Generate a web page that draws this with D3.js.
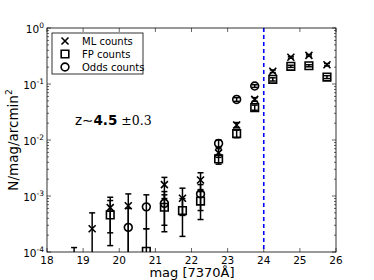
<!DOCTYPE html>
<html>
<head>
<meta charset="utf-8">
<script src="https://cdn.jsdelivr.net/npm/d3@7"></script>
<style>
  body { margin: 0; background: #fff; }
  text { font-family: "DejaVu Sans", sans-serif; }
</style>
</head>
<body>
<div id="wrapper"></div>
<script>
// bin centres (mag) and counts per series, with lower/upper error bar ends
const mags = [18.75, 19.25, 19.75, 20.25, 20.75, 21.25, 21.75, 22.25, 22.75, 23.25, 23.75, 24.25, 24.75, 25.25, 25.75];

const mlCounts = [6e-5, 2.6e-4, 6.2e-4, 6.7e-4, null, 1.6e-3, 9.1e-4, 1.93e-3, 5.9e-3, 1.85e-2, 5.3e-2, 0.169, 0.30, 0.325, 0.221];
const mlLo     = [1e-6, 1e-6, 2.2e-4, 1e-6, null, 9e-4, 4.5e-4, 1.2e-3, 4.9e-3, 1.65e-2, 4.9e-2, 0.16, 0.29, 0.315, 0.21];
const mlHi     = [1.2e-4, 5.0e-4, 9.5e-4, 1.09e-3, null, 2.15e-3, 1.38e-3, 2.6e-3, 7.0e-3, 2.05e-2, 5.7e-2, 0.178, 0.31, 0.335, 0.232];

const fpCounts = [null, null, 4.6e-4, null, 1.03e-4, 6.3e-4, 5.5e-4, 8.1e-4, 4.6e-3, 1.3e-2, 3.8e-2, 0.121, 0.207, 0.212, 0.133];
const fpLo     = [null, null, 1.3e-4, null, 1e-6, 2.3e-4, 1.9e-4, 3.8e-4, 3.7e-3, 1.1e-2, 3.4e-2, 0.113, 0.198, 0.203, 0.125];
const fpHi     = [null, null, 8.3e-4, null, 2.6e-4, 1.05e-3, 9.0e-4, 1.3e-3, 5.5e-3, 1.5e-2, 4.2e-2, 0.129, 0.216, 0.221, 0.141];

const oddsCounts = [null, null, null, 2.75e-4, 6.4e-4, 7.4e-4, null, 1.09e-3, 8.7e-3, 5.3e-2, 9.2e-2, null, null, null, null];
const oddsLo     = [null, null, null, 1e-6, 2.6e-4, 3.0e-4, null, 5.5e-4, 7.4e-3, 4.9e-2, 8.7e-2, null, null, null, null];
const oddsHi     = [null, null, null, 6.0e-4, 1.05e-3, 1.2e-3, null, 1.6e-3, 1.0e-2, 5.7e-2, 9.7e-2, null, null, null, null];

const xTicks = [18, 19, 20, 21, 22, 23, 24, 25, 26];
const yTickExp = [0, -1, -2, -3, -4];
const magLimit = 24;

const legendNames = ["ML counts", "FP counts", "Odds counts"];

const dimensions = {
  width: 374, height: 280,
  margin: { top: 28, right: 38, bottom: 28, left: 47 }
};
dimensions.boundedWidth = dimensions.width - dimensions.margin.left - dimensions.margin.right;
dimensions.boundedHeight = dimensions.height - dimensions.margin.top - dimensions.margin.bottom;

const svg = d3.select("#wrapper").append("svg")
  .attr("width", dimensions.width)
  .attr("height", dimensions.height);

const bounds = svg.append("g")
  .attr("transform", `translate(${dimensions.margin.left},${dimensions.margin.top})`);

const xScale = d3.scaleLinear().domain([18, 26]).range([0, dimensions.boundedWidth]);
const yScale = d3.scaleLog().domain([1e-4, 1]).range([dimensions.boundedHeight, 0]);

bounds.append("clipPath").attr("id", "clip")
  .append("rect").attr("width", dimensions.boundedWidth).attr("height", dimensions.boundedHeight);

// minor / major ticks, inward on all four sides
const minorVals = [];
for (let e = -4; e < 0; e++) for (let m = 2; m <= 9; m++) minorVals.push(m * Math.pow(10, e));

const tickG = bounds.append("g").attr("stroke", "#000").attr("stroke-width", 0.6);
xTicks.forEach(t => {
  const x = xScale(t);
  tickG.append("line").attr("x1", x).attr("x2", x).attr("y1", dimensions.boundedHeight).attr("y2", dimensions.boundedHeight - 4);
  tickG.append("line").attr("x1", x).attr("x2", x).attr("y1", 0).attr("y2", 4);
});
yTickExp.forEach(e => {
  const y = yScale(Math.pow(10, e));
  tickG.append("line").attr("x1", 0).attr("x2", 4).attr("y1", y).attr("y2", y);
  tickG.append("line").attr("x1", dimensions.boundedWidth).attr("x2", dimensions.boundedWidth - 4).attr("y1", y).attr("y2", y);
});
minorVals.forEach(v => {
  const y = yScale(v);
  tickG.append("line").attr("x1", 0).attr("x2", 2).attr("y1", y).attr("y2", y);
  tickG.append("line").attr("x1", dimensions.boundedWidth).attr("x2", dimensions.boundedWidth - 2).attr("y1", y).attr("y2", y);
});

// tick labels
bounds.append("g").selectAll("text").data(xTicks).join("text")
  .attr("x", d => xScale(d))
  .attr("y", dimensions.boundedHeight + 11.5)
  .attr("text-anchor", "middle")
  .attr("font-size", "10.5px")
  .text(d => d);

const yLab = bounds.append("g").selectAll("text").data(yTickExp).join("text")
  .attr("x", -3)
  .attr("y", d => yScale(Math.pow(10, d)) + 5)
  .attr("text-anchor", "end")
  .attr("font-size", "10.5px");
yLab.append("tspan").text("10");
yLab.append("tspan").attr("dy", -5).attr("font-size", "7.5px").text(d => d);

// vertical limit line
bounds.append("line")
  .attr("x1", xScale(magLimit)).attr("x2", xScale(magLimit))
  .attr("y1", 0).attr("y2", dimensions.boundedHeight)
  .attr("stroke", "#0000ff").attr("stroke-width", 1.6)
  .attr("stroke-dasharray", "4,3");

// data
const plotG = bounds.append("g").attr("clip-path", "url(#clip)");

function series(vals, lo, hi) {
  return mags.map((m, i) => ({ m, v: vals[i], lo: lo[i], hi: hi[i] })).filter(d => d.v != null);
}

function drawErrors(data) {
  const g = plotG.append("g").attr("stroke", "#000").attr("stroke-width", 1.5);
  data.forEach(d => {
    const x = xScale(d.m);
    const yl = yScale(d.lo), yh = yScale(d.hi);
    g.append("line").attr("x1", x).attr("x2", x).attr("y1", yl).attr("y2", yh);
    g.append("line").attr("x1", x - 3).attr("x2", x + 3).attr("y1", yl).attr("y2", yl);
    g.append("line").attr("x1", x - 3).attr("x2", x + 3).attr("y1", yh).attr("y2", yh);
  });
}

const markerPaths = {
  x: "M-3.5,-3.5L3.5,3.5M-3.5,3.5L3.5,-3.5",
  square: "M-3.8,-3.8H3.8V3.8H-3.8Z",
  circle: "M3.9,0A3.9,3.9 0 1,1 -3.9,0A3.9,3.9 0 1,1 3.9,0Z"
};

function drawMarkers(data, kind) {
  plotG.append("g").selectAll("path").data(data).join("path")
    .attr("transform", d => `translate(${xScale(d.m)},${yScale(d.v)})`)
    .attr("d", markerPaths[kind])
    .attr("fill", "none")
    .attr("stroke", "#000")
    .attr("stroke-width", 1.6);
}

const mlData = series(mlCounts, mlLo, mlHi);
const fpData = series(fpCounts, fpLo, fpHi);
const oddsData = series(oddsCounts, oddsLo, oddsHi);

drawErrors(mlData); drawErrors(fpData); drawErrors(oddsData);
drawMarkers(mlData, "x");
drawMarkers(fpData, "square");
drawMarkers(oddsData, "circle");

// frame
bounds.append("rect")
  .attr("width", dimensions.boundedWidth).attr("height", dimensions.boundedHeight)
  .attr("fill", "none").attr("stroke", "#000").attr("stroke-width", 0.8);

// legend
const legend = bounds.append("g").attr("transform", "translate(5,5)");
legend.append("rect").attr("width", 91).attr("height", 41)
  .attr("fill", "#fff").attr("stroke", "#000").attr("stroke-width", 0.8);
const kinds = ["x", "square", "circle"];
legendNames.forEach((name, i) => {
  legend.append("path")
    .attr("transform", `translate(13,${8 + i * 13})`)
    .attr("d", markerPaths[kinds[i]])
    .attr("fill", "none").attr("stroke", "#000").attr("stroke-width", 1.6);
  legend.append("text")
    .attr("x", 30).attr("y", 11.5 + i * 13)
    .attr("font-size", "10px")
    .text(name);
});

// annotation
const note = bounds.append("text")
  .attr("x", 28).attr("y", 97)
  .attr("font-size", "13.5px");
note.append("tspan").text("z");
note.append("tspan").text("\u223C");
note.append("tspan").attr("font-weight", "bold").text("4.5");
note.append("tspan").attr("font-family", "DejaVu Serif, serif").attr("font-size", "12.5px").text(" \u00B10.3");

// axis labels
svg.append("text")
  .attr("x", 192).attr("y", 277)
  .attr("text-anchor", "middle")
  .attr("font-size", "13px")
  .text("mag [7370\u00C5]");

const yLabel = svg.append("text")
  .attr("transform", "translate(18,140) rotate(-90)")
  .attr("text-anchor", "middle")
  .attr("font-size", "13.5px");
yLabel.append("tspan").text("N/mag/arcmin");
yLabel.append("tspan").attr("dy", -6).attr("font-size", "9px").text("2");
</script>
</body>
</html>
